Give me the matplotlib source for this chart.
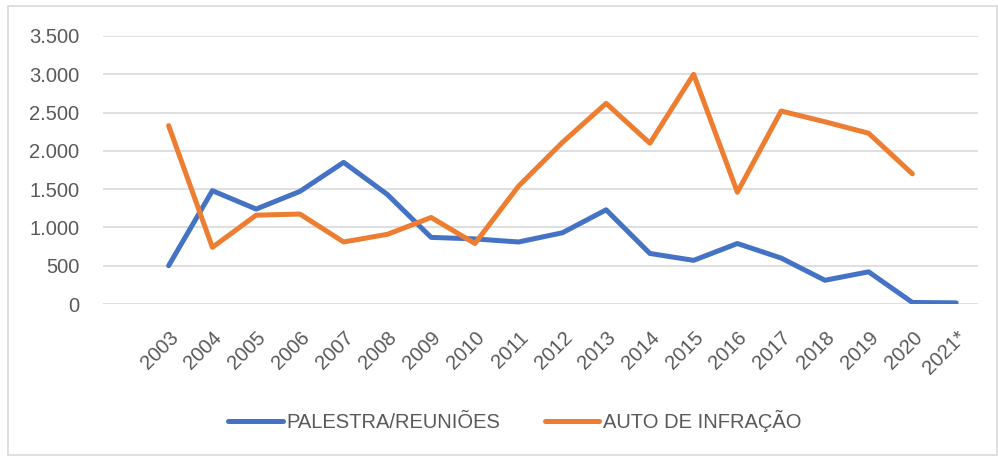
import numpy as np
import matplotlib.pyplot as plt
from matplotlib.patches import Rectangle

# Data
years = ["2003", "2004", "2005", "2006", "2007", "2008", "2009", "2010", "2011", "2012",
         "2013", "2014", "2015", "2016", "2017", "2018", "2019", "2020", "2021*"]
palestras = [500, 1480, 1240, 1470, 1850, 1430, 870, 850, 810, 930,
             1230, 660, 570, 790, 600, 310, 420, 20, 15]
autos = [2330, 740, 1160, 1175, 810, 910, 1130, 790, 1540, 2110,
         2620, 2100, 3000, 1460, 2520, 2380, 2230, 1700, np.nan]

plt.rcParams['font.family'] = ['Liberation Sans', 'DejaVu Sans']
txt_color = "#595959"

fig = plt.figure(figsize=(9.98, 4.57), dpi=100)
ax = fig.add_axes([103 / 998, 1 - 304 / 457, 875 / 998, 268 / 457])

x = np.arange(len(years))
ax.plot(x, palestras, color="#4472C4", lw=3.6, solid_capstyle="round", label="PALESTRA/REUNIÕES")
ax.plot(x, autos, color="#ED7D31", lw=3.6, solid_capstyle="round", label="AUTO DE INFRAÇÃO")

# Excel leaves an empty first category slot
ax.set_xlim(-1.5, len(years) - 0.5)
ax.set_ylim(0, 3500)
ax.set_yticks(np.arange(0, 3501, 500))
ax.set_yticklabels(["0", "500", "1.000", "1.500", "2.000", "2.500", "3.000", "3.500"])
ax.yaxis.grid(True, color="#D9D9D9", lw=1.2)
ax.set_axisbelow(True)
for s in ax.spines.values():
    s.set_visible(False)
ax.tick_params(axis="y", length=0, pad=17, labelsize=14.5, labelcolor=txt_color)

ax.set_xticks(x)
ax.set_xticklabels(years, rotation=45, ha="right", va="top", rotation_mode="anchor")
ax.tick_params(axis="x", length=0, pad=17, labelsize=14.5, labelcolor=txt_color)

leg = fig.legend(loc="center", bbox_to_anchor=(515 / 998, 1 - 421 / 457), ncol=2,
                 frameon=False, fontsize=14.5, handlelength=2.7, handletextpad=0.2,
                 columnspacing=2.2)
for t in leg.get_texts():
    t.set_color(txt_color)

fig.patches.append(Rectangle((8 / 998, 2 / 457), 989 / 998, 449 / 457, transform=fig.transFigure,
                             fill=False, edgecolor="#D9D9D9", lw=1.2))

fig.savefig("out.png", dpi=100)
